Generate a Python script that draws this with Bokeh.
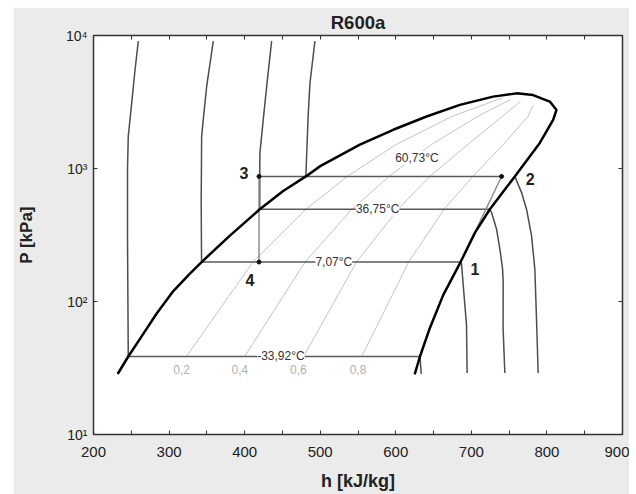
from bokeh.plotting import figure
from bokeh.models import (ColumnDataSource, LabelSet, FixedTicker, LinearAxis, LogAxis,
                          Range1d, CustomJSTickFormatter, Spacer)
from bokeh.layouts import row, column
from bokeh.core.properties import value
from bokeh.embed import file_html
from bokeh.resources import INLINE

FONT = "Liberation Sans"

# ---------------- data ----------------
# saturation dome: liquid side -> critical point -> vapour side
dome_h = [232, 246, 261.5, 283.6, 305.6, 327.6, 343, 380.5, 420, 451, 481, 500, 552.5, 596.6,
          640.7, 684.8, 728.8, 759.8, 781.7, 803.8, 812.7, 808.2, 790.6, 757.5, 724.5, 705,
          685.7, 662.7, 645, 632, 625]
dome_p = [28.5, 38.6, 52.4, 81.3, 119.7, 161.8, 198, 313, 494, 678, 872, 1042, 1510, 1955,
          2460, 3008, 3470, 3672, 3566, 3185, 2755, 2322, 1556, 872, 494, 331,
          198, 111.7, 63, 38.6, 28.3]

# isotherms in the liquid region (-33.92, 7.07, 36.75, 60.73 degC)
liqA_h = [246, 245, 245, 246, 250.5, 254.9, 259.3]
liqA_p = [38.6, 300, 984, 1746, 3090, 5483, 9080]
liqB_h = [343, 342.5, 343.1, 345.2, 349.7, 358.5]
liqB_p = [198, 555, 1746, 2322, 4121, 9080]
liqC_h = [420, 420, 420.2, 424.6, 429.1, 435.7]
liqC_p = [494, 1000, 1309, 2322, 4121, 9080]
liqD_h = [481, 484, 486.4, 493]
liqD_p = [872, 2460, 4365, 9080]

# isotherms in the vapour region
vapA_h = [632, 633.7]
vapA_p = [38.6, 28.5]
vapB_h = [685.7, 687, 690.3, 693.6, 694.4]
vapB_p = [198, 192, 112, 66.7, 29]
vapC_h = [724.5, 726.7, 733.3, 737.7, 741.3, 742.1, 742, 744.3]
vapC_p = [494, 467, 351, 249, 176, 140, 63, 29]
vapD_h = [757.5, 766.4, 773, 779.6, 784, 786.2, 788.4]
vapD_p = [872, 659, 494, 313, 176, 74.6, 29]

# constant-quality lines
q_p = [38.6, 198, 494, 872, 1510, 2460]
q02_h = [323, 411, 481, 536, 600, 674, 741]
q04_h = [400, 480, 542, 591, 647, 708, 752]
q06_h = [478, 548, 603, 645, 695, 741, 765]
q08_h = [555, 617, 664, 702, 742, 775, 782]
q_end_p = [3400, 3300, 3200, 3000]
q_labels = ["0,2", "0,4", "0,6", "0,8"]
q_label_h = [316.7, 393.8, 471, 550]
q_label_p = [30.8, 30.8, 30.8, 30.8]

# isobars (two-phase / cycle lines)
isobar_labels = ["-33,92°C", "7,07°C", "36,75°C", "60,73°C"]
isobar_p = [38.6, 198, 494, 872]
isobar_h0 = [246, 343, 420, 419]
isobar_h1 = [632, 685.7, 724.5, 740]
isobar_label_h = [448, 518, 576, 628]
isobar_label_p = [38.6, 198, 494, 1200]

# cycle points 1..4
pt_names = ["1", "2", "3", "4"]
pt_h = [685.7, 740, 419, 419]
pt_p = [198, 872, 872, 198]
pt_label_h = [704.6, 778, 399, 407]
pt_label_p = [176, 838, 929, 145]
# second compression trace (from the dew line to point 2)
comp2_h = [705, 740]
comp2_p = [331, 872]

x_major = [200, 300, 400, 500, 600, 700, 800, 900]
x_minor = [250, 350, 450, 550, 650, 750, 850]
y_major = [10, 100, 1000, 10000]
y_labels = ["10¹", "10²", "10³", "10⁴"]

# ---------------- figure ----------------
p = figure(width=616, height=487, x_range=Range1d(200, 900), y_range=Range1d(10, 10000),
           y_axis_type="log", output_backend="svg", toolbar_location=None,
           min_border_left=80, min_border_right=7, min_border_top=25, min_border_bottom=60,
           title="R600a")
p.border_fill_color = "#ebebeb"
p.background_fill_color = "white"
p.outline_line_color = "#333333"
p.outline_line_width = 1.5
p.xgrid.visible = False
p.ygrid.visible = False
p.title.align = "center"
p.title.text_font = FONT
p.title.text_font_size = "18.5px"
p.title.text_font_style = "bold"
p.title.text_color = "#222222"
p.title.standoff = 5

xa = p.xaxis[0]
xa.ticker = FixedTicker(ticks=x_major, minor_ticks=x_minor)
xa.major_tick_in = 4
xa.major_tick_out = 0
xa.minor_tick_in = 4
xa.minor_tick_out = 0
xa.axis_line_color = "#333333"
xa.major_tick_line_color = "#333333"
xa.minor_tick_line_color = "#333333"
xa.major_label_text_font = FONT
xa.major_label_text_font_size = "15px"
xa.major_label_text_color = "#222222"
xa.major_label_standoff = 12
xa.axis_label = "h [kJ/kg]"
xa.axis_label_text_font = FONT
xa.axis_label_text_font_size = "18px"
xa.axis_label_text_font_style = "bold"
xa.axis_label_text_color = "#222222"
xa.axis_label_standoff = 11

ya = p.yaxis[0]
ya.ticker = FixedTicker(ticks=y_major, minor_ticks=[])
ya.major_label_overrides = {t: s for t, s in zip(y_major, y_labels)}
ya.major_tick_in = 4
ya.major_tick_out = 0
ya.axis_line_color = "#333333"
ya.major_tick_line_color = "#333333"
ya.major_label_text_font = FONT
ya.major_label_text_font_size = "14px"
ya.major_label_text_color = "#222222"
ya.major_label_standoff = 6
ya.axis_label = "P [kPa]"
ya.axis_label_text_font = FONT
ya.axis_label_text_font_size = "17px"
ya.axis_label_text_font_style = "bold"
ya.axis_label_text_color = "#222222"
ya.axis_label_standoff = 27

blank = CustomJSTickFormatter(code="return ''")
top = LinearAxis(ticker=FixedTicker(ticks=x_major + x_minor), formatter=blank,
                 major_tick_in=4, major_tick_out=0, minor_tick_in=0, minor_tick_out=0,
                 major_label_standoff=0, major_label_text_font_size="0px",
                 axis_line_color="#333333", major_tick_line_color="#333333")
p.add_layout(top, "above")
right = LogAxis(ticker=FixedTicker(ticks=[100, 1000], minor_ticks=[]), formatter=blank,
                major_tick_in=4, major_tick_out=0, minor_tick_in=0, minor_tick_out=0,
                major_label_standoff=0, major_label_text_font_size="0px",
                axis_line_color="#333333", major_tick_line_color="#333333")
p.add_layout(right, "right")

# quality lines
q_xs = [q02_h, q04_h, q06_h, q08_h]
q_ys = [q_p + [e] for e in q_end_p]
p.multi_line(q_xs, q_ys, line_color="#c4c4c4", line_width=1)

# isotherms
iso_xs = [liqA_h, liqB_h, liqC_h, liqD_h, vapA_h, vapB_h, vapC_h, vapD_h]
iso_ys = [liqA_p, liqB_p, liqC_p, liqD_p, vapA_p, vapB_p, vapC_p, vapD_p]
p.multi_line(iso_xs, iso_ys, line_color="#4d4d4d", line_width=1.5)

# isobars
p.segment(x0=isobar_h0, y0=isobar_p, x1=isobar_h1, y1=isobar_p, line_color="#5a5a5a", line_width=1.5)

# expansion 3-4 and compression 1-2
p.segment(x0=[pt_h[2]], y0=[pt_p[2]], x1=[pt_h[3]], y1=[pt_p[3]], line_color="#8c8c8c", line_width=1.5)
p.segment(x0=[pt_h[0]], y0=[pt_p[0]], x1=[pt_h[1]], y1=[pt_p[1]], line_color="#6e6e6e", line_width=1.2)
p.line(comp2_h, comp2_p, line_color="#9a9a9a", line_width=1)

# saturation dome
p.line(dome_h, dome_p, line_color="black", line_width=2.5)

# points
p.scatter(pt_h[1:], pt_p[1:], size=4, color="#111111")

# labels
q_src = ColumnDataSource(dict(h=q_label_h, p=q_label_p, t=q_labels))
p.add_layout(LabelSet(x="h", y="p", text="t", source=q_src, text_align="center",
                      text_baseline="middle", text_font=value(FONT), text_font_size=value("12px"),
                      text_color="#b0b0b0"))

ib_src = ColumnDataSource(dict(h=isobar_label_h, p=isobar_label_p, t=isobar_labels))
p.add_layout(LabelSet(x="h", y="p", text="t", source=ib_src, text_align="center",
                      text_baseline="middle", text_font=value(FONT), text_font_size=value("12px"),
                      text_color="#333333", background_fill_color="white"))

pt_src = ColumnDataSource(dict(h=pt_label_h, p=pt_label_p, t=pt_names))
p.add_layout(LabelSet(x="h", y="p", text="t", source=pt_src, text_align="center",
                      text_baseline="middle", text_font=value(FONT), text_font_size=value("16px"),
                      text_font_style="bold", text_color="#222222"))

layout = column(Spacer(height=7), row(Spacer(width=13), p))
open("out.html", "w").write(file_html(layout, INLINE))
